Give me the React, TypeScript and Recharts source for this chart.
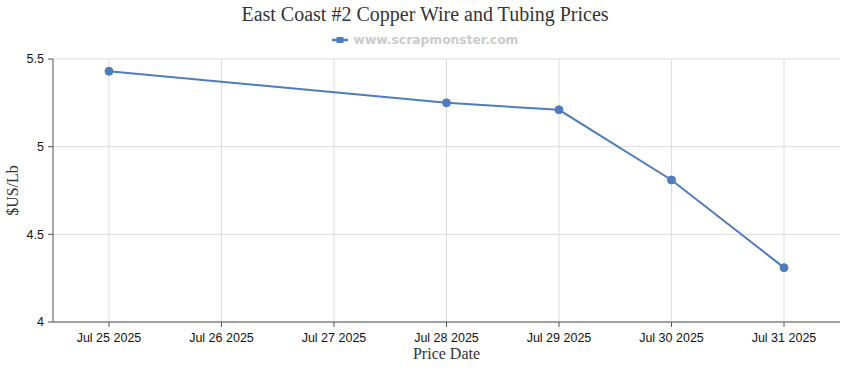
import React from 'react';
import { LineChart, Line, XAxis, YAxis, CartesianGrid, ReferenceLine } from 'recharts';

const priceDates = ['Jul 25 2025', 'Jul 26 2025', 'Jul 27 2025', 'Jul 28 2025', 'Jul 29 2025', 'Jul 30 2025', 'Jul 31 2025'];
const prices: (number | null)[] = [5.43, null, null, 5.25, 5.21, 4.81, 4.31];
const yTicks = [4, 4.5, 5, 5.5];

const LINE_COLOR = '#4e7dbb';
const GRID_COLOR = '#dddddd';
const TICK_STYLE = { fill: '#111', fontSize: 12.5, fontFamily: '"Liberation Sans", Arial, sans-serif' };

export default function App() {
  const data = priceDates.map((date, i) => ({ date, price: prices[i] }));

  return (
    <div style={{ position: 'absolute', left: 0, top: 0, width: 850, height: 370, background: '#fff' }}>
      <div
        style={{
          position: 'absolute', top: 3, left: 0, width: 850, textAlign: 'center',
          fontFamily: '"Liberation Serif", serif', fontSize: 20, color: '#333',
        }}
      >
        East Coast #2 Copper Wire and Tubing Prices
      </div>
      <div
        style={{
          position: 'absolute', top: 33, left: 0, width: 850, display: 'flex', justifyContent: 'center',
          alignItems: 'center', fontFamily: '"DejaVu Sans", sans-serif', fontSize: 12.3, fontWeight: 'bold', color: '#ccc',
        }}
      >
        <svg width={16} height={10} style={{ marginRight: 6 }}>
          <line x1={0} y1={5} x2={16} y2={5} stroke={LINE_COLOR} strokeWidth={2.5} />
          <rect x={4.5} y={2} width={7} height={6} fill={LINE_COLOR} />
        </svg>
        www.scrapmonster.com
      </div>
      <LineChart width={850} height={370} data={data} margin={{ top: 59, right: 10, left: 0, bottom: 0 }}>
        <CartesianGrid stroke={GRID_COLOR} vertical={false} />
        {/* vertical grid only at category positions */}
        {priceDates.map((d) => (
          <ReferenceLine key={d} x={d} stroke={GRID_COLOR} />
        ))}
        <XAxis
          dataKey="date"
          padding={{ left: 56, right: 56 }}
          height={48}
          tickSize={5}
          tickMargin={6}
          stroke="#555"
          tick={TICK_STYLE}
          label={{ value: 'Price Date', position: 'insideBottom', offset: 11, style: { fill: '#333', fontSize: 16, fontFamily: '"Liberation Serif", serif' } }}
        />
        <YAxis
          domain={[4, 5.5]}
          ticks={yTicks}
          width={53}
          tickSize={5}
          tickMargin={4}
          stroke="#555"
          tick={TICK_STYLE}
          label={{ value: '$US/Lb', angle: -90, position: 'insideLeft', offset: 12, style: { textAnchor: 'middle', fill: '#333', fontSize: 16, fontFamily: '"Liberation Serif", serif' } }}
        />
        <Line
          type="linear"
          dataKey="price"
          stroke={LINE_COLOR}
          strokeWidth={2}
          connectNulls
          dot={{ r: 4, fill: LINE_COLOR, stroke: LINE_COLOR, strokeWidth: 1 }}
          activeDot={false}
          isAnimationActive={false}
        />
      </LineChart>
    </div>
  );
}
